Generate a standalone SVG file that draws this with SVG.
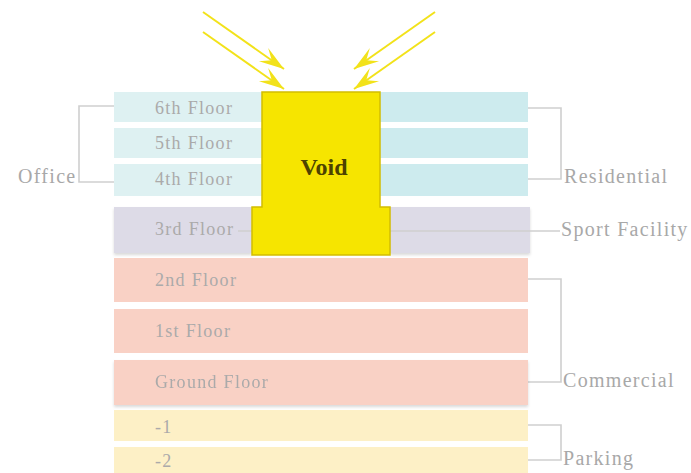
<svg xmlns="http://www.w3.org/2000/svg" width="691" height="473" viewBox="0 0 691 473">
<style>
.lbl{font-family:"Liberation Serif","DejaVu Serif",serif;font-size:18px;letter-spacing:1.3px;fill:#abaaaa}
.side{font-family:"Liberation Serif","DejaVu Serif",serif;font-size:20px;letter-spacing:1.3px;fill:#a8a8a8}
.br{fill:none;stroke:#cfcfcf;stroke-width:1.6}
.sun{stroke:#f2e21a;stroke-width:2;fill:none}
.office{fill:#def1f2}
.resi{fill:#cdebee}
.sport{fill:#dddbe7}
.comm{fill:#f9d1c5}
.park{fill:#fdf0c6}
</style>
<defs>
<marker id="ah" markerUnits="userSpaceOnUse" markerWidth="32" markerHeight="22" viewBox="-26 -11 28 22" refX="0" refY="0" orient="auto">
<path d="M0,0 L-25,-8 L-15,0 L-25,8 Z" fill="#f2e21a"/>
</marker>
<filter id="sh" x="-5%" y="-10%" width="110%" height="130%">
<feDropShadow dx="0" dy="2" stdDeviation="1.5" flood-color="#000" flood-opacity="0.15"/>
</filter>
</defs>

<g id="connectors">
<path class="br" d="M115,106 H79 V182 H115"/>
<path class="br" d="M528,108 H561 V179 H528"/>
<path class="br" d="M528,279 H561 V382 H528"/>
<path class="br" d="M528,425 H561 V460 H528"/>
</g>

<g id="floor6">
<rect class="office" x="114" y="92" width="148" height="30"/>
<rect class="resi" x="380" y="92" width="148" height="30"/>
<text class="lbl" x="155" y="114">6th Floor</text>
</g>
<g id="floor5">
<rect class="office" x="114" y="128" width="148" height="30"/>
<rect class="resi" x="380" y="128" width="148" height="30"/>
<text class="lbl" x="155" y="149">5th Floor</text>
</g>
<g id="floor4">
<rect class="office" x="114" y="164" width="148" height="32"/>
<rect class="resi" x="380" y="164" width="148" height="32"/>
<text class="lbl" x="155" y="185">4th Floor</text>
</g>
<g id="floor3" filter="url(#sh)">
<rect class="sport" x="114" y="207" width="138" height="46"/>
<rect class="sport" x="390" y="207" width="140" height="46"/>
</g>
<g id="floor3label">
<text class="lbl" x="155" y="235">3rd Floor</text>
<path class="br" d="M238,231 H252 M390,231 H560" stroke="#c4c2cc"/>
</g>
<g id="floor2">
<rect class="comm" x="114" y="258" width="414" height="44"/>
<text class="lbl" x="155" y="286">2nd Floor</text>
</g>
<g id="floor1">
<rect class="comm" x="114" y="309" width="414" height="44"/>
<text class="lbl" x="155" y="337">1st Floor</text>
</g>
<g id="floorG" filter="url(#sh)">
<rect class="comm" x="114" y="360" width="414" height="45"/>
<text class="lbl" x="155" y="388">Ground Floor</text>
</g>
<g id="floorM1">
<rect class="park" x="114" y="410" width="414" height="31"/>
<text class="lbl" x="155" y="433">-1</text>
</g>
<g id="floorM2">
<rect class="park" x="114" y="447" width="414" height="26"/>
<text class="lbl" x="155" y="467">-2</text>
</g>

<g id="void">
<path d="M262,92 H380 V207 H390 V255 H252 V207 H262 Z" fill="#f6e500" stroke="#d2bd00" stroke-width="1.5"/>
<text x="324" y="175" text-anchor="middle" font-family="Liberation Serif, DejaVu Serif, serif" font-size="24" font-weight="bold" fill="#4d4300">Void</text>
</g>

<g id="sunlight">
<line class="sun" x1="203" y1="12" x2="284" y2="69" marker-end="url(#ah)"/>
<line class="sun" x1="203" y1="32" x2="284" y2="89" marker-end="url(#ah)"/>
<line class="sun" x1="435" y1="12" x2="354" y2="69" marker-end="url(#ah)"/>
<line class="sun" x1="435" y1="32" x2="354" y2="89" marker-end="url(#ah)"/>
</g>

<g id="labels">
<text class="side" x="18" y="183">Office</text>
<text class="side" x="564" y="183">Residential</text>
<text class="side" x="561" y="236">Sport Facility</text>
<text class="side" x="563" y="387">Commercial</text>
<text class="side" x="563" y="465">Parking</text>
</g>
</svg>
